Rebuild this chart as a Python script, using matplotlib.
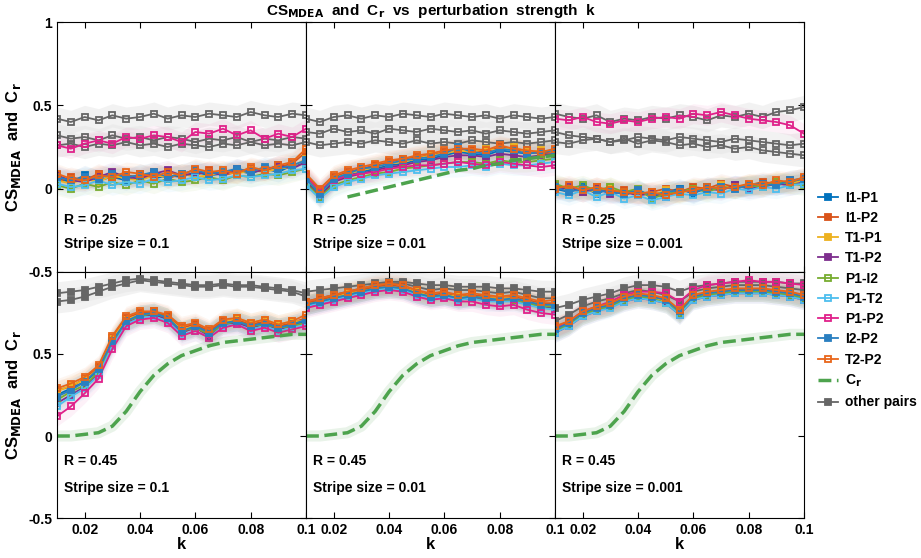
import numpy as np
import matplotlib
matplotlib.use("Agg")
import matplotlib.pyplot as plt

k = [0.010,0.015,0.020,0.025,0.030,0.035,0.040,0.045,0.050,0.055,0.060,0.065,0.070,0.075,0.080,0.085,0.090,0.095,0.100]
pairs = ["I1-P1","I1-P2","T1-P1","T1-P2","P1-I2","P1-T2","P1-P2","I2-P2","T2-P2"]
colors = ["#0072BD","#D95319","#EDB120","#7E2F8E","#77AC30","#4DBEEE","#E0218A","#2A7FC0","#E8661A"]
filled = [True,True,True,True,False,False,False,True,False]

tl = [
 [0.06,0.04,0.08,0.05,0.07,0.05,0.09,0.06,0.08,0.07,0.10,0.08,0.09,0.11,0.09,0.12,0.10,0.14,0.15],
 [0.04,0.07,0.05,0.09,0.06,0.08,0.07,0.10,0.06,0.09,0.08,0.11,0.08,0.10,0.12,0.11,0.13,0.15,0.22],
 [0.05,0.03,0.06,0.04,0.08,0.06,0.05,0.08,0.07,0.09,0.07,0.08,0.10,0.09,0.11,0.10,0.12,0.13,0.18],
 [0.08,0.05,0.04,0.07,0.10,0.07,0.06,0.09,0.11,0.08,0.09,0.10,0.08,0.12,0.10,0.11,0.14,0.12,0.16],
 [0.02,0.00,0.03,0.01,0.04,0.02,0.05,0.03,0.06,0.04,0.05,0.07,0.05,0.08,0.07,0.09,0.08,0.10,0.12],
 [0.03,0.01,0.02,0.05,0.02,0.04,0.03,0.06,0.04,0.05,0.07,0.05,0.06,0.08,0.07,0.08,0.09,0.11,0.12],
 [0.26,0.24,0.27,0.29,0.27,0.31,0.30,0.32,0.31,0.28,0.34,0.33,0.36,0.32,0.35,0.30,0.33,0.31,0.36],
 [0.07,0.05,0.07,0.06,0.09,0.07,0.08,0.10,0.07,0.09,0.11,0.09,0.10,0.12,0.10,0.13,0.12,0.14,0.17],
 [0.09,0.06,0.05,0.08,0.07,0.10,0.09,0.07,0.10,0.08,0.12,0.10,0.11,0.09,0.13,0.11,0.14,0.16,0.24],
]
tm = [
 [0.05,-0.04,0.05,0.08,0.10,0.12,0.14,0.15,0.17,0.18,0.20,0.22,0.21,0.20,0.23,0.22,0.21,0.22,0.23],
 [0.07,-0.02,0.07,0.10,0.12,0.14,0.16,0.18,0.19,0.20,0.22,0.24,0.23,0.22,0.25,0.24,0.22,0.21,0.22],
 [0.06,-0.03,0.06,0.09,0.11,0.13,0.15,0.16,0.18,0.20,0.21,0.23,0.22,0.24,0.23,0.25,0.22,0.23,0.22],
 [0.04,-0.05,0.04,0.07,0.09,0.11,0.13,0.14,0.16,0.17,0.19,0.20,0.20,0.19,0.21,0.20,0.19,0.20,0.21],
 [0.03,-0.05,0.02,0.05,0.07,0.09,0.10,0.12,0.13,0.14,0.15,0.16,0.16,0.15,0.17,0.16,0.16,0.17,0.18],
 [0.02,-0.06,0.01,0.04,0.06,0.08,0.09,0.10,0.11,0.12,0.13,0.13,0.14,0.13,0.15,0.14,0.14,0.15,0.16],
 [0.08,-0.01,0.05,0.08,0.09,0.10,0.12,0.13,0.14,0.14,0.15,0.16,0.15,0.14,0.16,0.15,0.14,0.13,0.14],
 [0.06,-0.03,0.06,0.09,0.12,0.13,0.15,0.17,0.18,0.19,0.21,0.25,0.22,0.21,0.24,0.23,0.21,0.22,0.23],
 [0.09,0.00,0.08,0.11,0.13,0.15,0.17,0.18,0.20,0.21,0.23,0.24,0.24,0.23,0.26,0.24,0.23,0.22,0.24],
]
tr = [
 [0.00,-0.02,0.01,-0.03,0.00,-0.04,-0.01,-0.05,-0.02,0.00,-0.03,0.01,0.00,0.02,0.01,0.03,0.02,0.04,0.05],
 [0.02,0.00,-0.02,0.01,-0.02,-0.01,-0.03,-0.02,0.00,-0.02,0.01,0.00,0.03,0.01,0.02,0.04,0.03,0.05,0.06],
 [0.01,-0.01,0.00,-0.02,0.01,-0.03,-0.02,-0.04,-0.01,-0.03,0.00,-0.01,0.02,0.00,0.03,0.02,0.04,0.03,0.05],
 [-0.01,0.01,-0.02,0.00,-0.03,-0.02,-0.04,-0.03,-0.05,-0.01,-0.02,0.00,-0.01,0.02,0.00,0.01,0.03,0.02,0.04],
 [0.03,0.00,0.02,-0.01,0.01,-0.02,0.00,-0.06,-0.03,-0.02,0.00,-0.02,0.01,0.00,0.02,0.01,0.04,0.03,0.02],
 [-0.02,-0.04,-0.01,-0.05,-0.02,-0.06,-0.04,-0.07,-0.05,-0.03,-0.04,-0.02,-0.03,0.00,-0.01,0.01,0.00,0.02,0.03],
 [0.42,0.41,0.43,0.40,0.39,0.41,0.40,0.42,0.43,0.42,0.45,0.44,0.46,0.44,0.42,0.41,0.40,0.38,0.33],
 [0.01,-0.02,0.00,-0.01,-0.02,-0.03,-0.01,-0.04,-0.02,-0.01,-0.02,0.00,0.01,0.00,0.02,0.03,0.02,0.05,0.06],
 [0.00,0.02,-0.01,0.01,-0.01,-0.02,-0.03,-0.02,-0.04,-0.02,-0.01,0.01,0.00,0.01,0.03,0.02,0.05,0.04,0.07],
]
bl = [
 [0.25,0.29,0.33,0.40,0.58,0.70,0.74,0.75,0.72,0.64,0.67,0.63,0.69,0.70,0.67,0.69,0.66,0.68,0.70],
 [0.28,0.30,0.35,0.42,0.60,0.72,0.75,0.76,0.73,0.66,0.68,0.64,0.70,0.71,0.68,0.70,0.67,0.69,0.72],
 [0.27,0.31,0.34,0.41,0.59,0.71,0.74,0.74,0.72,0.65,0.67,0.62,0.69,0.72,0.69,0.71,0.68,0.70,0.70],
 [0.20,0.25,0.30,0.38,0.56,0.69,0.73,0.74,0.71,0.63,0.66,0.61,0.68,0.69,0.66,0.68,0.65,0.67,0.69],
 [0.22,0.27,0.31,0.39,0.57,0.70,0.73,0.75,0.72,0.64,0.66,0.62,0.68,0.70,0.67,0.68,0.66,0.67,0.69],
 [0.18,0.24,0.29,0.37,0.55,0.68,0.72,0.73,0.70,0.62,0.64,0.60,0.67,0.68,0.65,0.67,0.64,0.66,0.68],
 [0.12,0.18,0.26,0.35,0.53,0.67,0.71,0.72,0.69,0.61,0.64,0.60,0.66,0.68,0.64,0.66,0.63,0.65,0.67],
 [0.24,0.28,0.33,0.41,0.58,0.70,0.74,0.75,0.72,0.64,0.67,0.63,0.69,0.70,0.67,0.69,0.66,0.68,0.71],
 [0.29,0.32,0.36,0.43,0.61,0.73,0.76,0.76,0.74,0.67,0.69,0.65,0.71,0.72,0.69,0.71,0.68,0.70,0.74],
]
bm = [
 [0.80,0.82,0.84,0.86,0.88,0.90,0.91,0.90,0.87,0.85,0.86,0.84,0.85,0.84,0.83,0.84,0.82,0.80,0.80],
 [0.81,0.83,0.85,0.87,0.89,0.91,0.92,0.91,0.88,0.86,0.87,0.85,0.86,0.85,0.84,0.85,0.83,0.81,0.81],
 [0.80,0.82,0.84,0.87,0.88,0.90,0.91,0.90,0.88,0.85,0.86,0.85,0.85,0.84,0.84,0.84,0.82,0.80,0.80],
 [0.79,0.81,0.83,0.85,0.87,0.89,0.90,0.89,0.86,0.84,0.85,0.83,0.84,0.83,0.82,0.83,0.81,0.79,0.78],
 [0.80,0.82,0.84,0.86,0.88,0.90,0.90,0.90,0.87,0.85,0.86,0.84,0.85,0.84,0.83,0.83,0.81,0.79,0.79],
 [0.79,0.81,0.83,0.85,0.87,0.89,0.90,0.89,0.86,0.84,0.85,0.83,0.84,0.82,0.82,0.82,0.80,0.78,0.77],
 [0.78,0.80,0.82,0.84,0.86,0.88,0.89,0.88,0.85,0.83,0.84,0.82,0.82,0.80,0.79,0.80,0.77,0.75,0.74],
 [0.80,0.82,0.84,0.86,0.88,0.90,0.91,0.90,0.87,0.85,0.86,0.84,0.85,0.84,0.83,0.84,0.82,0.80,0.80],
 [0.82,0.84,0.86,0.88,0.90,0.92,0.93,0.92,0.89,0.87,0.88,0.86,0.87,0.86,0.85,0.86,0.84,0.82,0.83],
]
br = [
 [0.64,0.68,0.74,0.77,0.79,0.83,0.85,0.84,0.82,0.75,0.84,0.86,0.87,0.88,0.88,0.88,0.87,0.86,0.84],
 [0.66,0.69,0.75,0.78,0.80,0.84,0.86,0.85,0.83,0.76,0.85,0.87,0.88,0.89,0.89,0.89,0.88,0.87,0.85],
 [0.65,0.68,0.74,0.77,0.80,0.83,0.85,0.84,0.82,0.75,0.84,0.86,0.87,0.88,0.88,0.88,0.87,0.86,0.84],
 [0.63,0.67,0.73,0.76,0.79,0.82,0.84,0.83,0.81,0.74,0.83,0.85,0.86,0.87,0.87,0.87,0.86,0.85,0.83],
 [0.64,0.68,0.74,0.77,0.79,0.83,0.85,0.84,0.81,0.75,0.84,0.86,0.87,0.88,0.88,0.88,0.87,0.86,0.84],
 [0.63,0.67,0.73,0.76,0.78,0.82,0.84,0.83,0.81,0.74,0.83,0.85,0.86,0.87,0.87,0.87,0.86,0.85,0.83],
 [0.66,0.70,0.76,0.79,0.82,0.86,0.88,0.88,0.87,0.82,0.89,0.92,0.93,0.94,0.95,0.94,0.94,0.93,0.92],
 [0.65,0.69,0.75,0.78,0.80,0.84,0.86,0.85,0.83,0.76,0.85,0.87,0.88,0.89,0.89,0.89,0.88,0.87,0.85],
 [0.67,0.70,0.76,0.79,0.81,0.85,0.87,0.86,0.84,0.77,0.86,0.88,0.89,0.90,0.90,0.90,0.89,0.88,0.86],
]

grey_tl = [[0.42,0.40,0.43,0.41,0.44,0.42,0.43,0.45,0.42,0.44,0.43,0.45,0.44,0.43,0.46,0.44,0.43,0.45,0.44],
           [0.32,0.30,0.31,0.29,0.32,0.30,0.31,0.29,0.31,0.30,0.28,0.30,0.29,0.31,0.28,0.30,0.29,0.31,0.30],
           [0.26,0.27,0.25,0.27,0.26,0.28,0.26,0.27,0.25,0.27,0.26,0.25,0.27,0.26,0.28,0.26,0.27,0.26,0.28]]
grey_tm = [[0.42,0.40,0.43,0.44,0.42,0.44,0.43,0.45,0.44,0.43,0.45,0.44,0.43,0.44,0.42,0.44,0.43,0.42,0.43],
           [0.34,0.33,0.36,0.34,0.35,0.33,0.36,0.35,0.34,0.36,0.35,0.34,0.35,0.33,0.35,0.34,0.33,0.34,0.35],
           [0.28,0.26,0.27,0.28,0.27,0.29,0.28,0.27,0.29,0.27,0.28,0.27,0.29,0.28,0.27,0.28,0.27,0.28,0.29]]
grey_tr = [[0.34,0.32,0.31,0.30,0.28,0.30,0.27,0.29,0.28,0.26,0.27,0.25,0.26,0.24,0.25,0.23,0.22,0.21,0.20],
           [0.28,0.27,0.29,0.30,0.28,0.29,0.31,0.30,0.29,0.31,0.30,0.29,0.28,0.30,0.29,0.28,0.27,0.26,0.27],
           [0.45,0.43,0.42,0.44,0.40,0.42,0.41,0.43,0.42,0.44,0.43,0.41,0.44,0.43,0.45,0.43,0.46,0.47,0.49]]
grey_bl = [[0.87,0.88,0.89,0.91,0.93,0.95,0.96,0.95,0.94,0.93,0.92,0.92,0.93,0.92,0.92,0.91,0.90,0.89,0.87],
           [0.82,0.83,0.85,0.88,0.91,0.93,0.95,0.94,0.93,0.92,0.91,0.91,0.92,0.91,0.91,0.90,0.89,0.88,0.85]]
grey_bm = [[0.88,0.89,0.90,0.91,0.92,0.93,0.94,0.94,0.93,0.92,0.92,0.91,0.91,0.91,0.90,0.90,0.89,0.88,0.88],
           [0.82,0.84,0.86,0.88,0.90,0.92,0.93,0.93,0.91,0.89,0.90,0.89,0.89,0.88,0.87,0.88,0.86,0.84,0.84]]
grey_br = [[0.78,0.80,0.83,0.85,0.87,0.90,0.92,0.92,0.91,0.88,0.91,0.92,0.93,0.94,0.94,0.94,0.94,0.93,0.93],
           [0.70,0.74,0.79,0.82,0.84,0.87,0.89,0.88,0.86,0.82,0.88,0.90,0.91,0.92,0.92,0.92,0.91,0.90,0.89]]

cr_top = [None,None,None,-0.05,-0.03,-0.01,0.01,0.03,0.05,0.07,0.09,0.11,0.12,0.14,0.15,0.17,0.18,0.19,0.20]
cr_bot = [0.00,0.00,0.01,0.02,0.06,0.15,0.27,0.37,0.44,0.49,0.52,0.55,0.57,0.58,0.59,0.60,0.61,0.62,0.62]

R_vals = ["0.25","0.45"]
stripes = ["0.1","0.01","0.001"]

panels = [[tl, tm, tr], [bl, bm, br]]
greys = [[grey_tl, grey_tm, grey_tr], [grey_bl, grey_bm, grey_br]]

plt.rcParams['font.family'] = ['Arial', 'Liberation Sans', 'DejaVu Sans']
plt.rcParams['font.weight'] = 'bold'
plt.rcParams['mathtext.default'] = 'bf'

fig = plt.figure(figsize=(9.21, 5.58), dpi=100)
W, H = 921, 558
x0s = [57, 306, 555]
pw = 249
ys = [(22, 272), (272, 518)]
kk = np.array(k)

handles = []
for r in range(2):
    for c in range(3):
        top, bot = ys[r]
        ax = fig.add_axes([x0s[c]/W, 1-bot/H, pw/W, (bot-top)/H])
        for g in greys[r][c]:
            g = np.array(g)
            ax.fill_between(kk, g-0.07, g+0.07, color='#e6e6e6', alpha=0.5, lw=0)
        for i, s in enumerate(panels[r][c]):
            s = np.array(s)
            ax.fill_between(kk, s-0.06, s+0.06, color=colors[i], alpha=0.06, lw=0)
        for g in greys[r][c]:
            h_grey, = ax.plot(kk, g, color='#666666', lw=1.3, marker='s', ms=4.5,
                              mfc='#666666' if r == 1 else 'none', mew=1.3)
        for i, s in enumerate(panels[r][c]):
            h, = ax.plot(kk, s, color=colors[i], lw=1.3, marker='s', ms=4.5,
                         mfc=colors[i] if filled[i] else 'none', mew=1.3)
            if r == 0 and c == 0:
                handles.append(h)
        if r == 1:
            ax.plot(kk, cr_bot, color='#4DA34D', lw=8, alpha=0.12)
            h_cr, = ax.plot(kk, cr_bot, color='#4DA34D', ls='--', lw=2.5)
        elif c == 1:
            crt = np.array([np.nan if v is None else v for v in cr_top], float)
            ax.plot(kk, crt, color='#4DA34D', ls='--', lw=2.5)
        ax.set_xlim(0.01, 0.1)
        ax.set_ylim(-0.5, 1)
        ax.set_xticks([0.02, 0.04, 0.06, 0.08, 0.1])
        ax.tick_params(direction='in', top=True, right=True, labelsize=10, length=4)
        if r == 0:
            ax.set_xticklabels([])
            ax.set_yticks([-0.5, 0, 0.5, 1])
            ax.set_yticklabels(['-0.5', '0', '0.5', '1'])
        else:
            ax.set_xticklabels(['0.02', '0.04', '0.06', '0.08', '0.1'])
            ax.set_yticks([-0.5, 0, 0.5])
            ax.set_yticklabels(['-0.5', '0', '0.5'])
            ax.set_xlabel('k', fontsize=12, fontweight='bold', labelpad=0)
        if c > 0:
            ax.set_yticklabels([])
        else:
            ax.set_ylabel(r'CS$_{MDEA}$  and  C$_r$', fontsize=12, fontweight='bold')
        ytxt = (-0.19, -0.33) if r == 0 else (-0.15, -0.32)
        ax.text(0.0125, ytxt[0], f'R = {R_vals[r]}', fontsize=10, fontweight='bold', va='center')
        ax.text(0.0125, ytxt[1], f'Stripe size = {stripes[c]}', fontsize=10, fontweight='bold', va='center')

fig.text(431/W, 1-11/H, r'CS$_{MDEA}$  and  C$_r$  vs  perturbation  strength  k',
         ha='center', va='center', fontsize=11, fontweight='bold')
fig.legend(handles + [h_cr, h_grey], pairs + [r'C$_r$', 'other pairs'],
           loc='center left', bbox_to_anchor=(805/W, 1-300/H), frameon=False,
           handlelength=1.5, handletextpad=0.5, labelspacing=0.45,
           prop={'weight': 'bold', 'size': 10})
fig.savefig('out.png', dpi=100)
